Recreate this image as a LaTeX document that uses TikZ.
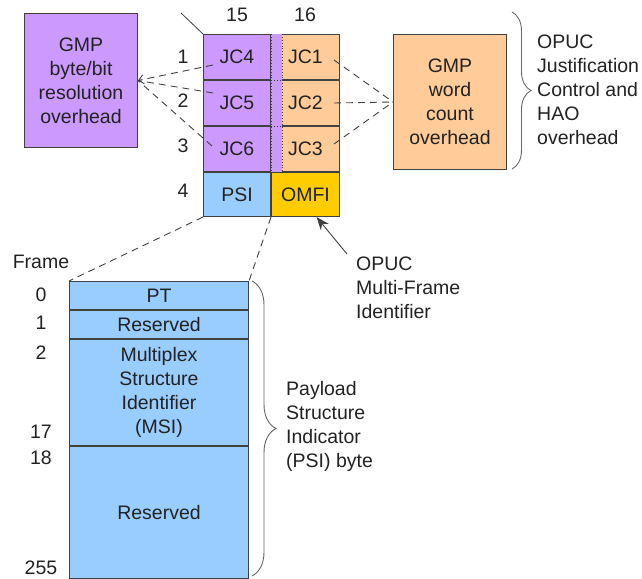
\documentclass[tikz,border=0pt]{standalone}
\usepackage{fontspec}
\setmainfont{Liberation Sans}
\usetikzlibrary{arrows.meta,decorations.pathreplacing,positioning}
\definecolor{gmppurple}{HTML}{CC99FF}
\definecolor{wordorange}{HTML}{FFCC99}
\definecolor{psiblue}{HTML}{99CCFF}
\definecolor{omfiyellow}{HTML}{FFCC00}
\definecolor{linegray}{HTML}{404040}
\definecolor{txtgray}{HTML}{222222}
\newcommand{\lbl}{\fontsize{19.5}{24}\selectfont}
\tikzset{
  cell/.style={draw=linegray, line width=1pt, inner sep=0pt, font=\lbl, text=txtgray, align=center},
  note/.style={font=\lbl, text=txtgray, inner sep=0pt},
  dashline/.style={linegray, line width=0.9pt, dash pattern=on 7pt off 5pt},
  bracket/.style={draw=linegray!80, line width=0.9pt, decorate, decoration={brace, amplitude=#1}}
}

\begin{document}
\begin{tikzpicture}[x=1pt, y=-1pt]
\useasboundingbox (0,0) rectangle (642,578);

\node[cell, fill=gmppurple, minimum width=113pt, minimum height=134pt, anchor=north west] (gmpbit) at (24,13) {GMP\\byte/bit\\resolution\\overhead};
\node[cell, fill=wordorange, minimum width=113pt, minimum height=135pt, anchor=north west] (gmpword) at (393,34) {GMP\\word\\count\\overhead};

\node[cell, fill=gmppurple, minimum width=67pt, minimum height=45pt, anchor=north west] (jc4) at (203,34) {JC4};
\node[cell, fill=gmppurple, minimum width=67pt, minimum height=45pt] (jc5) [below=0pt of jc4] {JC5};
\node[cell, fill=gmppurple, minimum width=67pt, minimum height=45pt] (jc6) [below=0pt of jc5] {JC6};
\node[cell, fill=wordorange, minimum width=68pt, minimum height=45pt] (jc1) [right=0pt of jc4] {JC1};
\node[cell, fill=wordorange, minimum width=68pt, minimum height=45pt] (jc2) [below=0pt of jc1] {JC2};
\node[cell, fill=wordorange, minimum width=68pt, minimum height=45pt] (jc3) [below=0pt of jc2] {JC3};
\node[cell, fill=psiblue, minimum width=67pt, minimum height=44pt] (psi) [below=0pt of jc6] {PSI};
\node[cell, fill=omfiyellow, minimum width=68pt, minimum height=44pt] (omfi) [below=0pt of jc3] {OMFI};

\fill[gmppurple] ([shift={(0pt,-0.5pt)}]jc1.north west) rectangle ([shift={(11pt,0.5pt)}]jc3.south west);
\draw[linegray, dotted, line width=0.9pt] (jc1.north west) -- (jc3.south west);
\draw[linegray, dotted, line width=0.9pt] ([xshift=11pt]jc1.north west) -- ([xshift=11pt]jc3.south west);
\draw[linegray, dotted, line width=0.9pt] (jc2.north west) -- ([xshift=11pt]jc2.north west);
\draw[linegray, dotted, line width=0.9pt] (jc3.north west) -- ([xshift=11pt]jc3.north west);

\node[note] (col15) at (237,15) {15};
\node[note] (col16) at (305,15) {16};
\foreach \n/\y in {1/57,2/101,3/146,4/191}
  \node[note] (row\n) at (183,\y) {\n};

\coordinate (tick) at (181,13);
\draw[linegray, line width=0.8pt] (tick) -- (jc4.north west);

\draw[dashline, -{Straight Barb[length=5pt, width=9pt]}] ([shift={(10pt,-8pt)}]jc4.west) -- (gmpbit.east);
\draw[dashline] ([shift={(10pt,10pt)}]jc5.west) -- (gmpbit.east);
\draw[dashline] ([shift={(9pt,3pt)}]jc6.west) -- (gmpbit.east);
\draw[dashline] ([shift={(-6pt,-3pt)}]jc1.east) -- (gmpword.west);
\draw[dashline] ([shift={(-6pt,0pt)}]jc2.east) -- (gmpword.west);
\draw[dashline] ([shift={(-6pt,5pt)}]jc3.east) -- (gmpword.west);

\draw[bracket=19pt] (512,12) -- (512,169);
\node[note, align=left, anchor=west] (jclabel) at (537,90) {OPUC\\Justification\\Control and\\HAO\\overhead};

\coordinate (omfitail) at (347,254);
\draw[linegray, line width=0.9pt, -{Stealth[length=13pt, width=10pt]}] (omfitail) -- ([xshift=11pt]omfi.south);
\node[note, align=left, anchor=west] (omfilabel) at (356,288) {OPUC\\Multi-Frame\\Identifier};

\node[cell, fill=psiblue, minimum width=179pt, minimum height=28pt, anchor=north west] (pt) at (69,281) {PT};
\node[cell, fill=psiblue, minimum width=179pt, minimum height=28pt] (res1) [below=0pt of pt] {Reserved};
\node[cell, fill=psiblue, minimum width=179pt, minimum height=106pt] (msi) [below=0pt of res1] {Multiplex\\Structure\\Identifier\\(MSI)};
\node[cell, fill=psiblue, minimum width=179pt, minimum height=132pt] (res2) [below=0pt of msi] {Reserved};

\draw[dashline] (psi.south west) -- (pt.north west);
\draw[dashline] (psi.south east) -- (pt.north east);

\foreach \t/\y in {Frame/262,0/295,1/323,2/353,17/432,18/458,255/568}
  \node[note] (fr\t) at (41,\y) {\t};

\draw[bracket=24pt] (252,281) -- (252,576);
\node[note, align=left, anchor=west] (psilabel) at (286,426) {Payload\\Structure\\Indicator\\(PSI) byte};
\end{tikzpicture}
\end{document}
